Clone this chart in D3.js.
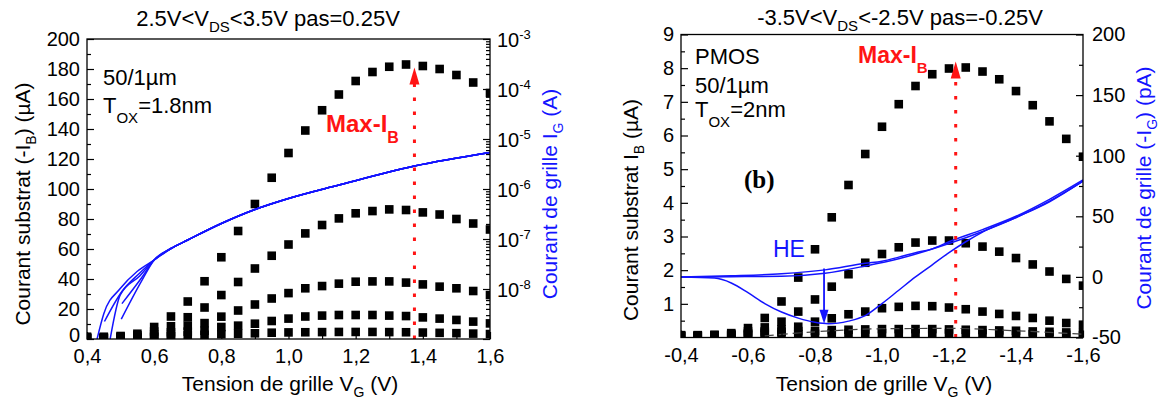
<!DOCTYPE html>
<html><head><meta charset="utf-8">
<script src="https://cdn.jsdelivr.net/npm/d3@7"></script>
<style>
html,body{margin:0;padding:0;background:#fff;}
svg{display:block;font-family:"Liberation Sans",Arial,sans-serif;}
</style></head><body>
<svg id="c" width="1160" height="399"></svg>
<script>
// ---------------- LEFT PANEL DATA (NMOS) ----------------
const vgLeft = [0.40,0.45,0.50,0.55,0.60,0.65,0.70,0.75,0.80,0.85,0.90,0.95,1.00,1.05,1.10,1.15,1.20,1.25,1.30,1.35,1.40,1.45,1.50,1.55,1.60];
const ibL_35  = [1.5,1.5,2,3.5,8,15,25,38.5,54.5,72,90,107.5,124,139,152.5,163,172,178,181.5,183,182,180,176,171,164];
const ibL_325 = [1,1,1.5,2.5,5,8.5,14.5,21,29.3,38,47,55.5,63,70.4,76,80.4,83.8,85.3,86.4,86,84.4,83,80,77,73];
const ibL_30  = [0.8,0.8,1,1.5,3,4.5,8.9,10.6,14.9,19,23,27,30.6,33.8,35.3,36.9,38.2,38.4,38.4,37.6,36.4,34.9,33.8,32,29.3];
const ibL_275 = [0.5,0.5,0.8,1,2,3,4.9,5.5,8,8.9,10.2,12,13.6,15,15.6,16,16,16,15.6,15.3,14.4,13.6,12.7,11.6,10.4];
const ibL_25  = [0.3,0.3,0.5,0.8,1.2,1.8,2.4,2.8,3.2,3.5,3.8,4.2,4.4,4.5,4.6,4.7,4.7,4.7,4.6,4.5,4.3,4.1,3.9,3.6,3.3];
// gate current (A), common upper part + five tails
const igL_commonVG = [0.60,0.65,0.70,0.80,0.90,1.00,1.15,1.375,1.60];
const igL_common   = [3.8e-8,6.46e-8,9.55e-8,2.04e-7,3.89e-7,6.46e-7,1.2e-6,2.88e-6,5.37e-6];
const igL_tail1VG = [0.430,0.450,0.499,0.549]; const igL_tail1 = [1.0e-9,3.2e-9,1.02e-8,2.24e-8];
const igL_tail2VG = [0.452,0.504,0.554];       const igL_tail2 = [2.24e-9,8.9e-9,2.0e-8];
const igL_tail3VG = [0.469,0.499,0.557];       const igL_tail3 = [1.0e-9,7.6e-9,1.82e-8];
const igL_tail4VG = [0.504,0.561];             const igL_tail4 = [5.1e-9,1.62e-8];
const igL_tail5VG = [0.502,0.564];             const igL_tail5 = [2.5e-9,1.51e-8];
const xTicksL = [0.4,0.6,0.8,1.0,1.2,1.4,1.6];
const xTickLabelsL = ["0,4","0,6","0,8","1,0","1,2","1,4","1,6"];
const yTicksL = [0,20,40,60,80,100,120,140,160,180,200];
const yTickLabelsL = ["0","20","40","60","80","100","120","140","160","180","200"];
const gTicksL = [1e-8,1e-7,1e-6,1e-5,1e-4,1e-3];
const gTickExpL = ["-8","-7","-6","-5","-4","-3"];
const maxIbL = {vg:1.375, ib:181};

// ---------------- RIGHT PANEL DATA (PMOS) ----------------
const vgRight = [-0.40,-0.45,-0.50,-0.55,-0.60,-0.65,-0.70,-0.75,-0.80,-0.85,-0.90,-0.95,-1.00,-1.05,-1.10,-1.15,-1.20,-1.25,-1.30,-1.35,-1.40,-1.45,-1.50,-1.55,-1.60];
const ibR_35  = [0.07,0.07,0.08,0.13,0.28,0.58,1.07,1.78,2.62,3.57,4.53,5.45,6.26,6.93,7.47,7.82,7.99,8.02,7.9,7.67,7.32,6.9,6.42,5.9,5.37];
const ibR_325 = [0.06,0.06,0.07,0.1,0.18,0.3,0.47,0.77,1.13,1.51,1.88,2.22,2.48,2.68,2.82,2.88,2.88,2.8,2.7,2.55,2.36,2.17,1.96,1.74,1.54];
const ibR_30  = [0.05,0.05,0.06,0.08,0.12,0.18,0.24,0.32,0.47,0.57,0.69,0.77,0.87,0.91,0.94,0.93,0.89,0.84,0.77,0.70,0.64,0.58,0.5,0.43,0.38];
const ibR_275 = [0.04,0.04,0.05,0.07,0.1,0.14,0.17,0.19,0.2,0.22,0.23,0.24,0.25,0.25,0.25,0.25,0.24,0.23,0.22,0.21,0.2,0.18,0.17,0.15,0.13];
const ibR_25  = [0.03,0.03,0.04,0.05,0.06,0.08,0.09,0.1,0.11,0.12,0.12,0.13,0.13,0.13,0.13,0.13,0.13,0.12,0.12,0.11,0.1,0.1,0.09,0.08,0.07];
// gate current (pA)
const igR_lowVG = [-0.40,-0.50,-0.55,-0.60,-0.65,-0.70,-0.75,-0.80,-0.84,-0.90,-0.95,-1.00,-1.05,-1.10,-1.15,-1.20,-1.25,-1.30,-1.40,-1.50,-1.60];
const igR_low   = [0,-1,-5,-13,-22,-29,-34,-37.5,-38.7,-36.5,-32,-22,-11,0,10,20,29,37,49,62,79];
const igR_up1VG = [-0.40,-0.55,-0.70,-0.83,-0.95,-1.00,-1.05,-1.10,-1.15,-1.20,-1.30,-1.40,-1.50,-1.60];
const igR_up1   = [0,0.9,2.5,5.8,11.3,13,16.3,20,23.1,29,39,50,64,80];
const igR_up2VG = [-0.40,-0.55,-0.70,-0.83,-0.95,-1.05,-1.20,-1.30,-1.40,-1.50,-1.60];
const igR_up2   = [0,0.2,0.5,3,9,15,27.5,37.5,49,62.5,79];
const dashR_VG = [-0.65,-0.80,-1.00,-1.20,-1.40,-1.60];
const dashR    = [0.05,0.17,0.26,0.27,0.2,0.1];
const xTicksR = [-0.4,-0.6,-0.8,-1.0,-1.2,-1.4,-1.6];
const xTickLabelsR = ["-0,4","-0,6","-0,8","-1,0","-1,2","-1,4","-1,6"];
const yTicksR = [1,2,3,4,5,6,7,8,9];
const yTickLabelsR = ["1","2","3","4","5","6","7","8","9"];
const yTicksRR = [-50,0,50,100,150,200];
const yTickLabelsRR = ["-50","0","50","100","150","200"];
const maxIbR = {vg:-1.22, ib:8.2};
const heArrow = {vg:-0.827, from:7, to:-38.7};

// ---------------- DRAWING ----------------
const BLUE = "#1414ff", RED = "#ff1414";
const svg = d3.select("#c");
const zip = (a,b)=>a.map((v,i)=>[v,b[i]]);

function styleAxis(g, fs){
  g.select(".domain").remove();
  g.selectAll("line").attr("stroke","#000").attr("stroke-width",1.2);
  g.selectAll("text").attr("font-size",fs).attr("fill","#000")
   .attr("font-family","'Liberation Sans',Arial,sans-serif");
}

function drawSquares(g, x, y, vg, series){
  series.forEach(s=>{
    g.append("g").selectAll("rect").data(zip(vg,s)).join("rect")
     .attr("x",d=>x(d[0])-4.3).attr("y",d=>y(d[1])-4.3)
     .attr("width",8.6).attr("height",8.6).attr("fill","#000");
  });
}

function redArrow(g, x, yTop, yBot){
  g.append("line").attr("x1",x).attr("x2",x).attr("y1",yBot).attr("y2",yTop+14)
   .attr("stroke",RED).attr("stroke-width",3).attr("stroke-dasharray","3.5,10.5");
  g.append("path").attr("d",`M${x},${yTop} L${x-5},${yTop+17} L${x+5},${yTop+17} Z`).attr("fill",RED);
}

// ===== LEFT =====
{
  const B = {x0:87,x1:490,y0:39,y1:339};
  const x = d3.scaleLinear().domain([0.4,1.6]).range([B.x0,B.x1]);
  const y = d3.scaleLinear().domain([0,200]).range([B.y1,B.y0]);
  const yg = d3.scaleLog().domain([1e-9,1e-3]).range([B.y1,B.y0]);
  svg.append("clipPath").attr("id","clipL").append("rect")
     .attr("x",B.x0).attr("y",B.y0).attr("width",B.x1-B.x0).attr("height",B.y1-B.y0);
  const plot = svg.append("g").attr("clip-path","url(#clipL)");
  drawSquares(plot, x, y, vgLeft, [ibL_25,ibL_275,ibL_30,ibL_325,ibL_35]);
  const line = d3.line().x(d=>x(d[0])).y(d=>yg(d[1])).curve(d3.curveMonotoneX);
  const common = zip(igL_commonVG, igL_common);
  [[igL_tail1VG,igL_tail1],[igL_tail2VG,igL_tail2],[igL_tail3VG,igL_tail3],[igL_tail4VG,igL_tail4],[igL_tail5VG,igL_tail5]]
   .forEach(([a,b])=>{
     plot.append("path").datum(zip(a,b).concat(common)).attr("d",line)
       .attr("fill","none").attr("stroke",BLUE).attr("stroke-width",1.5);
   });
  redArrow(svg, x(maxIbL.vg), y(maxIbL.ib), B.y1);

  // axes
  const ax = svg.append("g").attr("transform",`translate(0,${B.y1})`)
    .call(d3.axisBottom(x).tickValues(xTicksL).tickFormat((d,i)=>xTickLabelsL[i]).tickSizeInner(-7).tickSizeOuter(0).tickPadding(10));
  styleAxis(ax,20);
  const axm = svg.append("g").attr("transform",`translate(0,${B.y1})`)
    .call(d3.axisBottom(x).tickValues(d3.range(0.5,1.6,0.2)).tickFormat("").tickSize(-4));
  styleAxis(axm,20);
  const ay = svg.append("g").attr("transform",`translate(${B.x0},0)`)
    .call(d3.axisLeft(y).tickValues(yTicksL).tickFormat((d,i)=>yTickLabelsL[i]).tickSizeInner(-7).tickSizeOuter(0).tickPadding(7));
  styleAxis(ay,20);
  // lift the bottom "0" label slightly so it clears the "0,4" x label
  ay.selectAll(".tick text").filter(d=>d===0).attr("dy","0.1em");
  const aym = svg.append("g").attr("transform",`translate(${B.x0},0)`)
    .call(d3.axisLeft(y).tickValues(d3.range(10,200,20)).tickFormat("").tickSize(-4));
  styleAxis(aym,20);
  const ag = svg.append("g").attr("transform",`translate(${B.x1},0)`)
    .call(d3.axisRight(yg).tickValues([1e-9].concat(gTicksL)).tickFormat("").tickSizeInner(-7).tickSizeOuter(0));
  styleAxis(ag,20);
  const minorLog = [];
  for (let e=-9;e<-3;e++) for (let k=2;k<=9;k++) minorLog.push(k*Math.pow(10,e));
  const agm = svg.append("g").attr("transform",`translate(${B.x1},0)`)
    .call(d3.axisRight(yg).tickValues(minorLog).tickFormat("").tickSize(-4));
  styleAxis(agm,20);
  const gl = svg.append("g").selectAll("text").data(gTicksL).join("text")
    .attr("x",B.x1+7).attr("y",d=>yg(d)+8).attr("font-size",20).attr("fill","#000");
  gl.append("tspan").text("10");
  gl.append("tspan").attr("dy",-8).attr("font-size",13).text((d,i)=>gTickExpL[i]);

  svg.append("rect").attr("x",B.x0).attr("y",B.y0).attr("width",B.x1-B.x0).attr("height",B.y1-B.y0)
    .attr("fill","none").attr("stroke","#000").attr("stroke-width",1.3);

  // texts
  const t = svg.append("text").attr("x",268).attr("y",26).attr("text-anchor","middle").attr("font-size",22).attr("fill","#000");
  t.append("tspan").text("2.5V<V");
  t.append("tspan").attr("font-size",15).attr("dy",6).text("DS");
  t.append("tspan").attr("dy",-6).text("<3.5V pas=0.25V");

  const xt = svg.append("text").attr("x",290).attr("y",391).attr("text-anchor","middle").attr("font-size",21).attr("fill","#000");
  xt.append("tspan").text("Tension de grille V");
  xt.append("tspan").attr("font-size",14).attr("dy",6).text("G");
  xt.append("tspan").attr("dy",-6).text(" (V)");

  const yt = svg.append("text").attr("transform","translate(30,204) rotate(-90)").attr("text-anchor","middle").attr("font-size",21).attr("fill","#000");
  yt.append("tspan").text("Courant substrat (-I");
  yt.append("tspan").attr("font-size",14).attr("dy",6).text("B");
  yt.append("tspan").attr("dy",-6).text(") (µA)");

  const yt2 = svg.append("text").attr("transform","translate(557,194) rotate(-90)").attr("text-anchor","middle").attr("font-size",21).attr("fill",BLUE);
  yt2.append("tspan").text("Courant de grille I");
  yt2.append("tspan").attr("font-size",14).attr("dy",6).text("G");
  yt2.append("tspan").attr("dy",-6).text("  (A)");

  svg.append("text").attr("x",103).attr("y",85).attr("font-size",22).attr("fill","#000").text("50/1µm");
  const tox = svg.append("text").attr("x",103).attr("y",113).attr("font-size",22).attr("fill","#000");
  tox.append("tspan").text("T");
  tox.append("tspan").attr("font-size",15).attr("dy",10).text("OX");
  tox.append("tspan").attr("dy",-10).text("=1.8nm");

  const mx = svg.append("text").attr("x",326).attr("y",131.5).attr("font-size",24).attr("font-weight","bold").attr("fill",RED);
  mx.append("tspan").text("Max-I");
  mx.append("tspan").attr("font-size",16).attr("dy",11).text("B");
}

// ===== RIGHT =====
{
  const B = {x0:681,x1:1083,y0:34.5,y1:337.5};
  const x = d3.scaleLinear().domain([-0.4,-1.6]).range([B.x0,B.x1]);
  const y = d3.scaleLinear().domain([0,9]).range([B.y1,B.y0]);
  const yg = d3.scaleLinear().domain([-50,200]).range([B.y1,B.y0]);
  svg.append("clipPath").attr("id","clipR").append("rect")
     .attr("x",B.x0).attr("y",B.y0).attr("width",B.x1-B.x0).attr("height",B.y1-B.y0);
  const plot = svg.append("g").attr("clip-path","url(#clipR)");
  drawSquares(plot, x, y, vgRight, [ibR_25,ibR_275,ibR_30,ibR_325,ibR_35]);
  plot.append("path").datum(zip(dashR_VG,dashR))
    .attr("d",d3.line().x(d=>x(d[0])).y(d=>y(d[1])).curve(d3.curveMonotoneX))
    .attr("fill","none").attr("stroke","#444").attr("stroke-width",1.2).attr("stroke-dasharray","9,5");
  const line = d3.line().x(d=>x(d[0])).y(d=>yg(d[1])).curve(d3.curveMonotoneX);
  [[igR_lowVG,igR_low],[igR_up1VG,igR_up1],[igR_up2VG,igR_up2]].forEach(([a,b])=>{
    plot.append("path").datum(zip(a,b)).attr("d",line)
      .attr("fill","none").attr("stroke",BLUE).attr("stroke-width",1.5);
  });
  redArrow(svg, x(maxIbR.vg), y(maxIbR.ib), B.y1);
  // HE arrow
  const hx = x(heArrow.vg), hy1 = yg(heArrow.from), hy2 = yg(heArrow.to);
  svg.append("line").attr("x1",hx).attr("x2",hx).attr("y1",hy1).attr("y2",hy2-12)
    .attr("stroke",BLUE).attr("stroke-width",1.8);
  svg.append("path").attr("d",`M${hx},${hy2} L${hx-4.5},${hy2-14} L${hx+4.5},${hy2-14} Z`).attr("fill",BLUE);

  const ax = svg.append("g").attr("transform",`translate(0,${B.y1})`)
    .call(d3.axisBottom(x).tickValues(xTicksR).tickFormat((d,i)=>xTickLabelsR[i]).tickSizeInner(-7).tickSizeOuter(0).tickPadding(10));
  styleAxis(ax,20);
  const axm = svg.append("g").attr("transform",`translate(0,${B.y1})`)
    .call(d3.axisBottom(x).tickValues([-0.5,-0.7,-0.9,-1.1,-1.3,-1.5]).tickFormat("").tickSize(-4));
  styleAxis(axm,20);
  const ay = svg.append("g").attr("transform",`translate(${B.x0},0)`)
    .call(d3.axisLeft(y).tickValues(yTicksR).tickFormat((d,i)=>yTickLabelsR[i]).tickSizeInner(-7).tickSizeOuter(0).tickPadding(7));
  styleAxis(ay,20);
  const aym = svg.append("g").attr("transform",`translate(${B.x0},0)`)
    .call(d3.axisLeft(y).tickValues(d3.range(0.5,9,1)).tickFormat("").tickSize(-4));
  styleAxis(aym,20);
  const ag = svg.append("g").attr("transform",`translate(${B.x1},0)`)
    .call(d3.axisRight(yg).tickValues(yTicksRR).tickFormat((d,i)=>yTickLabelsRR[i]).tickSizeInner(-7).tickSizeOuter(0).tickPadding(9));
  styleAxis(ag,20);
  const agm = svg.append("g").attr("transform",`translate(${B.x1},0)`)
    .call(d3.axisRight(yg).tickValues([-25,25,75,125,175]).tickFormat("").tickSize(-4));
  styleAxis(agm,20);

  svg.append("rect").attr("x",B.x0).attr("y",B.y0).attr("width",B.x1-B.x0).attr("height",B.y1-B.y0)
    .attr("fill","none").attr("stroke","#000").attr("stroke-width",1.3);

  const t = svg.append("text").attr("x",900).attr("y",25).attr("text-anchor","middle").attr("font-size",22).attr("fill","#000");
  t.append("tspan").text("-3.5V<V");
  t.append("tspan").attr("font-size",15).attr("dy",6).text("DS");
  t.append("tspan").attr("dy",-6).text("<-2.5V pas=-0.25V");

  const xt = svg.append("text").attr("x",884).attr("y",391).attr("text-anchor","middle").attr("font-size",21).attr("fill","#000");
  xt.append("tspan").text("Tension de grille V");
  xt.append("tspan").attr("font-size",14).attr("dy",6).text("G");
  xt.append("tspan").attr("dy",-6).text(" (V)");

  const yt = svg.append("text").attr("transform","translate(638,210) rotate(-90)").attr("text-anchor","middle").attr("font-size",21).attr("fill","#000");
  yt.append("tspan").text("Courant substrat I");
  yt.append("tspan").attr("font-size",14).attr("dy",6).text("B");
  yt.append("tspan").attr("dy",-6).text(" (µA)");

  const yt2 = svg.append("text").attr("transform","translate(1151,188) rotate(-90)").attr("text-anchor","middle").attr("font-size",21).attr("fill",BLUE);
  yt2.append("tspan").text("Courant de grille (-I");
  yt2.append("tspan").attr("font-size",14).attr("dy",6).text("G");
  yt2.append("tspan").attr("dy",-6).text(")  (pA)");

  svg.append("text").attr("x",695).attr("y",64).attr("font-size",22).attr("fill","#000").text("PMOS");
  svg.append("text").attr("x",695).attr("y",93).attr("font-size",22).attr("fill","#000").text("50/1µm");
  const tox = svg.append("text").attr("x",695).attr("y",117).attr("font-size",22).attr("fill","#000");
  tox.append("tspan").text("T");
  tox.append("tspan").attr("font-size",15).attr("dy",10).text("OX");
  tox.append("tspan").attr("dy",-10).text("=2nm");

  svg.append("text").attr("x",744).attr("y",188).attr("font-size",25).attr("font-weight","bold")
    .attr("font-family","'Liberation Serif','Times New Roman',serif").attr("fill","#000").text("(b)");
  svg.append("text").attr("x",773).attr("y",257).attr("font-size",23).attr("fill",BLUE).text("HE");

  const mx = svg.append("text").attr("x",858).attr("y",63).attr("font-size",23).attr("font-weight","bold").attr("fill",RED);
  mx.append("tspan").text("Max-I");
  mx.append("tspan").attr("font-size",15).attr("dy",10).text("B");
}
</script></body></html>
